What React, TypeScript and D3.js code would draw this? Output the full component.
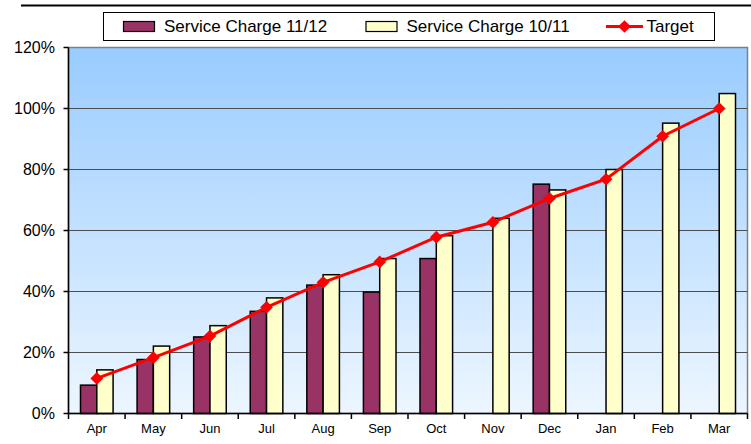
import React from 'react';
import * as d3 from 'd3';

const months = ['Apr', 'May', 'Jun', 'Jul', 'Aug', 'Sep', 'Oct', 'Nov', 'Dec', 'Jan', 'Feb', 'Mar'];
const charge1112: (number | null)[] = [9.3, 17.7, 25.1, 33.5, 42.1, 39.8, 50.8, null, 75.2, null, null, null];
const charge1011 = [14.3, 22.1, 28.8, 37.9, 45.5, 50.8, 58.3, 64, 73.3, 80, 95.2, 104.9];
const target = [11.5, 18.3, 25.4, 34.8, 43, 49.7, 57.8, 62.7, 70.5, 76.8, 90.9, 100];
const yTicks = [0, 20, 40, 60, 80, 100, 120];

const W = 751;
const H = 444;
const left = 68.5;
const right = 747.5;
const top = 47.5;
const bottom = 413.5;
const font = 'Arial, "Liberation Sans", sans-serif';

const App: React.FC = () => {
    const x = d3.scaleBand<string>().domain(months).range([left, right]);
    const y = d3.scaleLinear().domain([0, 120]).range([bottom, top]);
    const bw = x.bandwidth() * 0.288;

    const line = d3.line<number>()
        .x((_, i) => (x(months[i]) as number) + x.bandwidth() / 2)
        .y((d) => y(d));

    const cx = (m: string) => (x(m) as number) + x.bandwidth() / 2;

    return (
        <svg width={W} height={H} style={{ position: 'absolute', left: 0, top: 0 }} fontFamily={font}>
            <defs>
                <linearGradient id="bg" x1="0" y1="0" x2="0" y2="1">
                    <stop offset="0%" stopColor="#99CCFF" />
                    <stop offset="100%" stopColor="#EDF6FF" />
                </linearGradient>
            </defs>
            <rect width={W} height={H} fill="#fff" />
            {/* top rule */}
            <line x1={21} x2={W} y1={5.5} y2={5.5} stroke="#000" strokeWidth={2} />

            {/* plot area */}
            <rect x={left} y={top} width={right - left} height={bottom - top} fill="url(#bg)" stroke="#808080" strokeWidth={1.5} />
            {yTicks.filter((t) => t > 0 && t < 120).map((t) => (
                <line key={t} x1={left} x2={right} y1={y(t)} y2={y(t)} stroke="#4d4d4d" strokeWidth={1.2} />
            ))}

            {/* bars */}
            {months.map((m, i) => (
                <g key={m}>
                    {charge1112[i] !== null && (
                        <rect x={cx(m) - bw} y={y(charge1112[i] as number)} width={bw}
                            height={y(0) - y(charge1112[i] as number)} fill="#993366" stroke="#000" strokeWidth={1.5} />
                    )}
                    <rect x={cx(m)} y={y(charge1011[i])} width={bw}
                        height={y(0) - y(charge1011[i])} fill="#FFFFCC" stroke="#000" strokeWidth={1.5} />
                </g>
            ))}

            {/* target line */}
            <path d={line(target) || ''} fill="none" stroke="#FF0000" strokeWidth={3} />
            {target.map((v, i) => (
                <rect key={i} x={-4.5} y={-4.5} width={9} height={9} fill="#FF0000"
                    transform={`translate(${cx(months[i])},${y(v)}) rotate(45)`} />
            ))}

            {/* axes */}
            <line x1={left} x2={left} y1={top} y2={bottom} stroke="#000" strokeWidth={1.5} />
            <line x1={left} x2={right} y1={bottom} y2={bottom} stroke="#000" strokeWidth={1.5} />
            {yTicks.map((t) => (
                <g key={t}>
                    <line x1={left - 5} x2={left} y1={y(t)} y2={y(t)} stroke="#000" strokeWidth={1.5} />
                    <text x={55} y={y(t)} dy="0.35em" textAnchor="end" fontSize={16} fill="#000">{t}%</text>
                </g>
            ))}
            {months.concat(['']).map((m, i) => {
                const xx = left + i * x.bandwidth();
                return <line key={i} x1={xx} x2={xx} y1={bottom} y2={bottom + 5.5} stroke="#000" strokeWidth={1.5} />;
            })}
            {months.map((m) => (
                <text key={m} x={cx(m)} y={433} textAnchor="middle" fontSize={13} fill="#000">{m}</text>
            ))}

            {/* legend */}
            <rect x={103.5} y={12.5} width={611} height={28} fill="#fff" stroke="#000" strokeWidth={1} />
            <rect x={123.5} y={21.5} width={31} height={10} fill="#993366" stroke="#000" strokeWidth={1.2} />
            <text x={164} y={32} fontSize={17} fill="#000">Service Charge 11/12</text>
            <rect x={366} y={21.5} width={31} height={10} fill="#FFFFCC" stroke="#000" strokeWidth={1.2} />
            <text x={406.5} y={32} fontSize={17} fill="#000">Service Charge 10/11</text>
            <line x1={606} x2={643} y1={26.5} y2={26.5} stroke="#FF0000" strokeWidth={3} />
            <rect x={-4.5} y={-4.5} width={9} height={9} fill="#FF0000" transform="translate(624.5,26.5) rotate(45)" />
            <text x={646.5} y={32} fontSize={17} fill="#000">Target</text>
        </svg>
    );
};

export default App;
